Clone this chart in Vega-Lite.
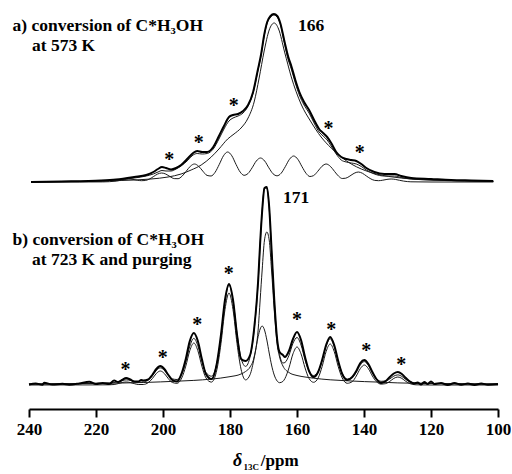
{
  "$schema": "https://vega.github.io/schema/vega-lite/v6.json",
  "width": 469,
  "height": 375,
  "autosize": {"type": "pad"},
  "padding": {"left": 12, "top": 10, "right": 0, "bottom": 0},
  "background": "white",
  "config": {"view": {"stroke": null, "fill": "white"}},
  "datasets": {
    "ae": [{"x":239.4,"y":0},{"x":230.4,"y":0.5},{"x":218.5,"y":1.5},{"x":214,"y":2.5},{"x":208.6,"y":5},{"x":205,"y":7},{"x":202.9,"y":10},{"x":201.5,"y":13},{"x":200.3,"y":15},{"x":199.1,"y":14},{"x":197.6,"y":12.5},{"x":196.1,"y":14},{"x":194.6,"y":17},{"x":192.5,"y":24},{"x":191,"y":29},{"x":189.8,"y":31},{"x":188.3,"y":30},{"x":186.8,"y":30},{"x":185,"y":35},{"x":183.3,"y":46},{"x":181.8,"y":56},{"x":180.3,"y":65},{"x":179.1,"y":67},{"x":177.6,"y":68},{"x":176.1,"y":71},{"x":174.6,"y":77},{"x":173.1,"y":90},{"x":171.7,"y":112},{"x":170.7,"y":128},{"x":169.8,"y":147},{"x":168.9,"y":160},{"x":167.9,"y":166},{"x":166.9,"y":168},{"x":165.9,"y":166},{"x":165,"y":159},{"x":163.7,"y":140},{"x":162.6,"y":125},{"x":161.7,"y":116},{"x":160.5,"y":102},{"x":159.3,"y":90},{"x":157.9,"y":80},{"x":156.4,"y":72},{"x":154.9,"y":62},{"x":153.4,"y":53},{"x":152.2,"y":49},{"x":151,"y":45},{"x":149.8,"y":39},{"x":148.3,"y":30},{"x":146.8,"y":25},{"x":145.3,"y":23},{"x":143.8,"y":22},{"x":142.3,"y":21},{"x":140.8,"y":18},{"x":139.3,"y":14},{"x":136.9,"y":10},{"x":133.9,"y":8},{"x":130.9,"y":8},{"x":128.9,"y":6},{"x":125.9,"y":4},{"x":120,"y":3},{"x":114,"y":2},{"x":108,"y":1.5},{"x":101.4,"y":1}],
    "af": [{"x":239.4,"y":0},{"x":230.4,"y":0.5},{"x":218.5,"y":1},{"x":214,"y":2},{"x":208.6,"y":4},{"x":205,"y":6},{"x":202.9,"y":8},{"x":201.5,"y":10},{"x":200.3,"y":11.5},{"x":199.1,"y":11},{"x":197.6,"y":11},{"x":196.1,"y":13},{"x":194.6,"y":16},{"x":192.5,"y":22},{"x":191,"y":27},{"x":189.8,"y":28.5},{"x":188.3,"y":28},{"x":186.8,"y":28.5},{"x":185,"y":33},{"x":183.3,"y":43},{"x":181.8,"y":53},{"x":180.3,"y":61},{"x":179.1,"y":64},{"x":177.6,"y":66},{"x":176.1,"y":69},{"x":174.6,"y":76},{"x":173.1,"y":89},{"x":171.7,"y":111},{"x":170.7,"y":127},{"x":169.8,"y":146},{"x":168.9,"y":159},{"x":167.9,"y":165},{"x":166.9,"y":167},{"x":165.9,"y":165},{"x":165,"y":158},{"x":163.7,"y":138},{"x":162.6,"y":122},{"x":161.7,"y":113},{"x":160.5,"y":99},{"x":159.3,"y":87},{"x":157.9,"y":77},{"x":156.4,"y":69},{"x":154.9,"y":59},{"x":153.4,"y":50},{"x":152.2,"y":46},{"x":151,"y":42},{"x":149.8,"y":36},{"x":148.3,"y":28},{"x":146.8,"y":22},{"x":145.3,"y":20},{"x":143.8,"y":19},{"x":142.3,"y":18},{"x":140.8,"y":15.5},{"x":139.3,"y":12},{"x":136.9,"y":8},{"x":133.9,"y":6},{"x":130.9,"y":6},{"x":128.9,"y":4.5},{"x":125.9,"y":3},{"x":120,"y":2},{"x":114,"y":1.5},{"x":108,"y":1},{"x":101.4,"y":0.5}],
    "ab": [{"x":239.4,"y":0},{"x":224.5,"y":0.5},{"x":212.5,"y":1.5},{"x":203.6,"y":3},{"x":198.5,"y":5},{"x":194.6,"y":8},{"x":191.6,"y":12},{"x":188.6,"y":17},{"x":185.6,"y":25},{"x":183.3,"y":33},{"x":180.7,"y":43},{"x":178.8,"y":48},{"x":176.7,"y":54},{"x":174.6,"y":64},{"x":172.8,"y":80},{"x":171.3,"y":104},{"x":169.8,"y":131},{"x":168.3,"y":152},{"x":166.8,"y":159},{"x":165.5,"y":153},{"x":163.7,"y":130},{"x":161.7,"y":105},{"x":158.8,"y":78},{"x":155.8,"y":60},{"x":152.8,"y":45},{"x":149.8,"y":34},{"x":146.8,"y":25},{"x":143.8,"y":18},{"x":140.8,"y":13},{"x":136.3,"y":8},{"x":128.9,"y":4},{"x":120,"y":2},{"x":110,"y":1},{"x":101.4,"y":0.5}],
    "as": [{"x":239.4,"y":0},{"x":225,"y":0},{"x":218,"y":0.1},{"x":213.95,"y":0.9},{"x":212.7,"y":1.7},{"x":211.45,"y":2.6},{"x":210.2,"y":3},{"x":208.95,"y":2.6},{"x":207.7,"y":1.8},{"x":206.45,"y":1.3},{"x":205.3,"y":1.5},{"x":204.15,"y":2.8},{"x":202.9,"y":5.3},{"x":201.65,"y":7.9},{"x":200.4,"y":9},{"x":199.15,"y":7.9},{"x":197.9,"y":5.4},{"x":196.65,"y":3.4},{"x":195.5,"y":3.3},{"x":194.35,"y":5.7},{"x":193.1,"y":10.6},{"x":191.85,"y":15.7},{"x":190.6,"y":18},{"x":189.35,"y":15.7},{"x":188.1,"y":10.8},{"x":186.85,"y":6.6},{"x":185.65,"y":6},{"x":184.45,"y":9.7},{"x":183.2,"y":17.6},{"x":181.95,"y":26.2},{"x":180.7,"y":30},{"x":179.45,"y":26.2},{"x":178.2,"y":17.6},{"x":176.95,"y":9.9},{"x":175.8,"y":6.7},{"x":174.65,"y":8.4},{"x":173.4,"y":14.2},{"x":172.15,"y":21},{"x":170.9,"y":24},{"x":169.65,"y":21},{"x":168.4,"y":14.2},{"x":167.15,"y":8.2},{"x":165.95,"y":6.2},{"x":164.75,"y":8.7},{"x":163.5,"y":15.3},{"x":162.25,"y":22.7},{"x":161,"y":26},{"x":159.75,"y":22.7},{"x":158.5,"y":15.3},{"x":157.25,"y":8.5},{"x":156.15,"y":5.5},{"x":155.05,"y":6.4},{"x":153.8,"y":10.7},{"x":152.55,"y":15.7},{"x":151.3,"y":18},{"x":150.05,"y":15.7},{"x":148.8,"y":10.6},{"x":147.55,"y":5.7},{"x":146.5,"y":3.5},{"x":145.45,"y":3.8},{"x":144.2,"y":6},{"x":142.95,"y":8.7},{"x":141.7,"y":10},{"x":140.45,"y":8.7},{"x":139.2,"y":5.8},{"x":137.95,"y":3.1},{"x":136.8,"y":1.6},{"x":135.65,"y":1.3},{"x":134.4,"y":1.8},{"x":133.15,"y":2.6},{"x":131.9,"y":3},{"x":130.65,"y":2.6},{"x":129.4,"y":1.7},{"x":128.15,"y":0.9},{"x":126,"y":0.2},{"x":120,"y":0},{"x":101.4,"y":0}],
    "be": [{"x":240,"y":0.5},{"x":238,"y":1.5},{"x":236,"y":0.3},{"x":235.5,"y":2.3},{"x":233,"y":0.5},{"x":230,"y":1.2},{"x":228,"y":0.3},{"x":225,"y":1.5},{"x":222,"y":3.3},{"x":220,"y":1},{"x":218,"y":2},{"x":216,"y":1},{"x":214.6,"y":4.5},{"x":213.4,"y":3},{"x":212.2,"y":5},{"x":211,"y":7},{"x":209.8,"y":5.5},{"x":208.6,"y":3.5},{"x":207.4,"y":3.5},{"x":206.5,"y":5},{"x":205.9,"y":4.5},{"x":204.4,"y":5.5},{"x":203.2,"y":10},{"x":202,"y":16},{"x":200.8,"y":19},{"x":199.6,"y":16},{"x":198.4,"y":10},{"x":197.2,"y":5},{"x":195.8,"y":3.5},{"x":194.4,"y":12},{"x":193.2,"y":26},{"x":192,"y":44},{"x":190.8,"y":52},{"x":189.6,"y":44},{"x":188.4,"y":26},{"x":187.2,"y":11},{"x":185.55,"y":6},{"x":183.9,"y":22},{"x":182.7,"y":50},{"x":181.5,"y":85},{"x":180.3,"y":101},{"x":179.1,"y":85},{"x":177.9,"y":50},{"x":176.7,"y":26},{"x":175.35,"y":24},{"x":174,"y":30},{"x":172.8,"y":56},{"x":171.6,"y":104},{"x":171,"y":142},{"x":170.4,"y":174},{"x":169.7,"y":197},{"x":169,"y":198},{"x":168.3,"y":178},{"x":167.6,"y":136},{"x":166.8,"y":86},{"x":165.9,"y":45},{"x":165.2,"y":33},{"x":164.2,"y":30},{"x":163.6,"y":28},{"x":162.4,"y":34},{"x":161.2,"y":46},{"x":160,"y":53},{"x":158.8,"y":45},{"x":157.6,"y":28},{"x":156.4,"y":14},{"x":155.05,"y":8},{"x":153.7,"y":13},{"x":152.5,"y":25},{"x":151.3,"y":40},{"x":150.1,"y":48},{"x":148.9,"y":40},{"x":147.7,"y":24},{"x":146.5,"y":11},{"x":145,"y":5},{"x":143.5,"y":8},{"x":142.3,"y":14},{"x":141.1,"y":22},{"x":139.9,"y":25},{"x":138.7,"y":21},{"x":137.5,"y":13},{"x":136.3,"y":6},{"x":134.9,"y":2},{"x":133.5,"y":4},{"x":132.3,"y":8},{"x":131.1,"y":11.5},{"x":129.9,"y":13},{"x":128.7,"y":11},{"x":127.5,"y":7},{"x":126.3,"y":3.5},{"x":125,"y":1.5},{"x":124,"y":2.5},{"x":123,"y":0.5},{"x":122,"y":3},{"x":121,"y":1},{"x":120,"y":3.5},{"x":119,"y":1},{"x":117,"y":2},{"x":115,"y":0},{"x":113,"y":2},{"x":111,"y":0.3},{"x":109,"y":1.5},{"x":107,"y":0},{"x":105,"y":1.5},{"x":103,"y":0.3},{"x":100,"y":1}],
    "bf": [{"x":240,"y":1},{"x":230,"y":1.2},{"x":220,"y":1.7},{"x":216,"y":2},{"x":214.6,"y":2.4},{"x":213.4,"y":3.4},{"x":212.2,"y":4.5},{"x":211,"y":5.1},{"x":209.8,"y":4.7},{"x":208.6,"y":3.7},{"x":207.4,"y":2.9},{"x":205.9,"y":3},{"x":204.4,"y":5.1},{"x":203.2,"y":9.1},{"x":202,"y":14.5},{"x":200.8,"y":17.1},{"x":199.6,"y":14.7},{"x":198.4,"y":9.7},{"x":197.2,"y":6.1},{"x":195.8,"y":5.5},{"x":194.4,"y":11.1},{"x":193.2,"y":23.1},{"x":192,"y":38.8},{"x":190.8,"y":46.6},{"x":189.6,"y":39.3},{"x":188.4,"y":24},{"x":187.2,"y":12.6},{"x":185.55,"y":8.8},{"x":183.9,"y":22.1},{"x":182.7,"y":48.4},{"x":181.5,"y":83},{"x":180.3,"y":100.2},{"x":179.1,"y":84.3},{"x":177.9,"y":51.2},{"x":176.7,"y":26.8},{"x":175.35,"y":18.6},{"x":174,"y":28.4},{"x":172.8,"y":54.6},{"x":171.6,"y":103.4},{"x":171,"y":141},{"x":170.4,"y":174},{"x":169.7,"y":197},{"x":169,"y":197},{"x":168.3,"y":177},{"x":167.6,"y":135},{"x":166.8,"y":85},{"x":165.9,"y":44},{"x":165.2,"y":30.3},{"x":164.2,"y":22},{"x":163.6,"y":22.5},{"x":162.4,"y":29.6},{"x":161.2,"y":41.7},{"x":160,"y":47.5},{"x":158.8,"y":40},{"x":157.6,"y":25.1},{"x":156.4,"y":13.9},{"x":155.05,"y":9.5},{"x":153.7,"y":13.3},{"x":152.5,"y":24.4},{"x":151.3,"y":39.1},{"x":150.1,"y":46.2},{"x":148.9,"y":38.5},{"x":147.7,"y":23.2},{"x":146.5,"y":11.5},{"x":145,"y":5.9},{"x":143.5,"y":7.4},{"x":142.3,"y":12.8},{"x":141.1,"y":20},{"x":139.9,"y":23.4},{"x":138.7,"y":19.6},{"x":137.5,"y":12.1},{"x":136.3,"y":6.4},{"x":134.9,"y":3.7},{"x":133.5,"y":4},{"x":132.3,"y":6.1},{"x":131.1,"y":8.9},{"x":129.9,"y":10.1},{"x":128.7,"y":8.6},{"x":127.5,"y":5.5},{"x":126.3,"y":3.2},{"x":124.5,"y":1.9},{"x":120,"y":1.5},{"x":110,"y":1.2},{"x":100,"y":1}],
    "bb": [{"x":240,"y":1},{"x":230,"y":1.2},{"x":220,"y":1.6},{"x":212.2,"y":2},{"x":205.9,"y":2.5},{"x":200.8,"y":3.1},{"x":195.8,"y":3.8},{"x":190.8,"y":4.6},{"x":185.55,"y":5.9},{"x":180.3,"y":8.2},{"x":176.7,"y":11},{"x":175.35,"y":13.5},{"x":174,"y":18},{"x":172.8,"y":28},{"x":171.6,"y":55},{"x":171,"y":85},{"x":170.4,"y":115},{"x":169.7,"y":145},{"x":169,"y":153},{"x":168.3,"y":145},{"x":167.6,"y":115},{"x":166.8,"y":75},{"x":165.9,"y":40},{"x":165.2,"y":28},{"x":164.2,"y":19},{"x":162.4,"y":12.5},{"x":160,"y":9.5},{"x":157.6,"y":8},{"x":155.05,"y":6.8},{"x":150.1,"y":5.2},{"x":145,"y":4.2},{"x":139.9,"y":3.4},{"x":134.9,"y":2.8},{"x":129.9,"y":2.1},{"x":124.5,"y":1.7},{"x":120,"y":1.5},{"x":110,"y":1.2},{"x":100,"y":1}],
    "bs": [{"x":240,"y":0},{"x":220,"y":0.1},{"x":216,"y":0.2},{"x":214.6,"y":0.5},{"x":213.4,"y":1.4},{"x":212.2,"y":2.5},{"x":211,"y":3},{"x":209.8,"y":2.5},{"x":208.6,"y":1.4},{"x":207.4,"y":0.5},{"x":205.9,"y":0.5},{"x":204.4,"y":2.4},{"x":203.2,"y":6.3},{"x":202,"y":11.5},{"x":200.8,"y":14},{"x":199.6,"y":11.5},{"x":198.4,"y":6.3},{"x":197.2,"y":2.5},{"x":195.8,"y":1.7},{"x":194.4,"y":7.1},{"x":193.2,"y":18.9},{"x":192,"y":34.4},{"x":190.8,"y":42},{"x":189.6,"y":34.4},{"x":188.4,"y":18.9},{"x":187.2,"y":7.2},{"x":185.55,"y":2.9},{"x":183.9,"y":15.6},{"x":182.7,"y":41.4},{"x":181.5,"y":75.4},{"x":180.3,"y":92},{"x":179.1,"y":75.4},{"x":177.9,"y":41.4},{"x":176.7,"y":15.8},{"x":175.35,"y":5.1},{"x":174,"y":10.4},{"x":172.8,"y":26.6},{"x":171.6,"y":48.4},{"x":171,"y":56},{"x":170.4,"y":59},{"x":169.7,"y":55},{"x":169,"y":45},{"x":168.3,"y":32},{"x":167.6,"y":20},{"x":166.8,"y":10},{"x":165.9,"y":3.9},{"x":165.2,"y":2.3},{"x":164.2,"y":3.6},{"x":163.6,"y":6.5},{"x":162.4,"y":17.1},{"x":161.2,"y":31.2},{"x":160,"y":38},{"x":158.8,"y":31.2},{"x":157.6,"y":17.1},{"x":156.4,"y":6.5},{"x":155.05,"y":2.7},{"x":153.7,"y":7},{"x":152.5,"y":18.5},{"x":151.3,"y":33.6},{"x":150.1,"y":41},{"x":148.9,"y":33.6},{"x":147.7,"y":18.5},{"x":146.5,"y":7},{"x":145,"y":1.7},{"x":143.5,"y":3.4},{"x":142.3,"y":9},{"x":141.1,"y":16.4},{"x":139.9,"y":20},{"x":138.7,"y":16.4},{"x":137.5,"y":9},{"x":136.3,"y":3.4},{"x":134.9,"y":0.9},{"x":133.5,"y":1.4},{"x":132.3,"y":3.6},{"x":131.1,"y":6.6},{"x":129.9,"y":8},{"x":128.7,"y":6.6},{"x":127.5,"y":3.6},{"x":126.3,"y":1.4},{"x":124.5,"y":0.2},{"x":120,"y":0},{"x":100,"y":0}],
    "lab": [
      {"k":"A","t":"a) conversion of C*H₃OH","x":244.9,"y":151},
      {"k":"A","t":"at 573 K","x":239.1,"y":131},
      {"k":"A","t":"166","x":159.7,"y":151},
      {"k":"B","t":"b) conversion of C*H₃OH","x":244.9,"y":140},
      {"k":"B","t":"at 723 K and purging","x":239.1,"y":120},
      {"k":"B","t":"171","x":164.2,"y":182},
      {"k":"AS","t":"*","x":198.1,"y":16.3},
      {"k":"AS","t":"*","x":189.3,"y":33},
      {"k":"AS","t":"*","x":178.9,"y":70.3},
      {"k":"AS","t":"*","x":150.6,"y":47},
      {"k":"AS","t":"*","x":141.3,"y":23},
      {"k":"BS","t":"*","x":211.2,"y":9.3},
      {"k":"BS","t":"*","x":200.1,"y":21},
      {"k":"BS","t":"*","x":189.8,"y":54.3},
      {"k":"BS","t":"*","x":180.4,"y":105.3},
      {"k":"BS","t":"*","x":160.0,"y":59.3},
      {"k":"BS","t":"*","x":149.8,"y":49.3},
      {"k":"BS","t":"*","x":139.3,"y":27.7},
      {"k":"BS","t":"*","x":128.9,"y":14.3},
      {"k":"T1","t":"δ","x":179.1,"y":-81},
      {"k":"T2","t":"13C","x":176.0,"y":-85},
      {"k":"T3","t":"/ppm","x":170.8,"y":-81}
    ]
  },
  "encoding": {
    "x": {
      "field": "x", "type": "quantitative",
      "scale": {"domain": [240, 100], "nice": false, "zero": false},
      "axis": {"values": [240,220,200,180,160,140,120,100], "format": "d", "title": null, "offset": 24, "grid": false,
        "domainColor": "#000", "domainWidth": 2, "tickColor": "#000", "tickWidth": 2, "tickSize": 8,
        "labelFont": "Liberation Serif", "labelFontSize": 17, "labelFontWeight": "bold", "labelColor": "#000",
        "labelPadding": 4, "labelFlush": false, "labelOverlap": false}
    }
  },
  "layer": [
    {"data": {"name": "as"}, "mark": {"type": "line", "interpolate": "monotone", "color": "#1a1a1a", "strokeWidth": 1},
     "encoding": {"y": {"field": "y", "type": "quantitative", "scale": {"domain": [-203, 172], "nice": false, "zero": false}, "axis": null}}},
    {"data": {"name": "ab"}, "mark": {"type": "line", "interpolate": "monotone", "color": "#1a1a1a", "strokeWidth": 1},
     "encoding": {"y": {"field": "y", "type": "quantitative", "scale": {"domain": [-203, 172], "nice": false, "zero": false}, "axis": null}}},
    {"data": {"name": "af"}, "mark": {"type": "line", "interpolate": "monotone", "color": "#1a1a1a", "strokeWidth": 1},
     "encoding": {"y": {"field": "y", "type": "quantitative", "scale": {"domain": [-203, 172], "nice": false, "zero": false}, "axis": null}}},
    {"data": {"name": "ae"}, "mark": {"type": "line", "interpolate": "monotone", "color": "#000", "strokeWidth": 2},
     "encoding": {"y": {"field": "y", "type": "quantitative", "scale": {"domain": [-203, 172], "nice": false, "zero": false}, "axis": null}}},
    {"data": {"name": "bs"}, "mark": {"type": "line", "interpolate": "monotone", "color": "#1a1a1a", "strokeWidth": 1},
     "encoding": {"y": {"field": "y", "type": "quantitative", "scale": {"domain": [0, 375], "nice": false, "zero": false}, "axis": null}}},
    {"data": {"name": "bb"}, "mark": {"type": "line", "interpolate": "monotone", "color": "#1a1a1a", "strokeWidth": 1},
     "encoding": {"y": {"field": "y", "type": "quantitative", "scale": {"domain": [0, 375], "nice": false, "zero": false}, "axis": null}}},
    {"data": {"name": "bf"}, "mark": {"type": "line", "interpolate": "monotone", "color": "#1a1a1a", "strokeWidth": 1},
     "encoding": {"y": {"field": "y", "type": "quantitative", "scale": {"domain": [0, 375], "nice": false, "zero": false}, "axis": null}}},
    {"data": {"name": "be"}, "mark": {"type": "line", "interpolate": "monotone", "color": "#000", "strokeWidth": 2},
     "encoding": {"y": {"field": "y", "type": "quantitative", "scale": {"domain": [0, 375], "nice": false, "zero": false}, "axis": null}}},
    {"data": {"name": "lab"}, "transform": [{"filter": "datum.k == 'A'"}],
     "mark": {"type": "text", "align": "left", "baseline": "alphabetic", "font": "Liberation Serif", "fontSize": 17.5, "fontWeight": "bold", "color": "#000"},
     "encoding": {"text": {"field": "t"}, "y": {"field": "y", "type": "quantitative", "scale": {"domain": [-203, 172], "nice": false, "zero": false}, "axis": null}}},
    {"data": {"name": "lab"}, "transform": [{"filter": "datum.k == 'B'"}],
     "mark": {"type": "text", "align": "left", "baseline": "alphabetic", "font": "Liberation Serif", "fontSize": 17.5, "fontWeight": "bold", "color": "#000"},
     "encoding": {"text": {"field": "t"}, "y": {"field": "y", "type": "quantitative", "scale": {"domain": [0, 375], "nice": false, "zero": false}, "axis": null}}},
    {"data": {"name": "lab"}, "transform": [{"filter": "datum.k == 'AS'"}],
     "mark": {"type": "text", "align": "center", "baseline": "alphabetic", "font": "Liberation Serif", "fontSize": 20, "fontWeight": "bold", "color": "#000"},
     "encoding": {"text": {"field": "t"}, "y": {"field": "y", "type": "quantitative", "scale": {"domain": [-203, 172], "nice": false, "zero": false}, "axis": null}}},
    {"data": {"name": "lab"}, "transform": [{"filter": "datum.k == 'BS'"}],
     "mark": {"type": "text", "align": "center", "baseline": "alphabetic", "font": "Liberation Serif", "fontSize": 20, "fontWeight": "bold", "color": "#000"},
     "encoding": {"text": {"field": "t"}, "y": {"field": "y", "type": "quantitative", "scale": {"domain": [0, 375], "nice": false, "zero": false}, "axis": null}}},
    {"data": {"name": "lab"}, "transform": [{"filter": "datum.k == 'T1'"}],
     "mark": {"type": "text", "align": "left", "baseline": "alphabetic", "font": "Liberation Serif", "fontSize": 18, "fontStyle": "italic", "fontWeight": "bold", "color": "#000"},
     "encoding": {"text": {"field": "t"}, "y": {"field": "y", "type": "quantitative", "scale": {"domain": [0, 375], "nice": false, "zero": false}, "axis": null}}},
    {"data": {"name": "lab"}, "transform": [{"filter": "datum.k == 'T2'"}],
     "mark": {"type": "text", "align": "left", "baseline": "alphabetic", "font": "Liberation Serif", "fontSize": 9, "fontWeight": "bold", "color": "#000"},
     "encoding": {"text": {"field": "t"}, "y": {"field": "y", "type": "quantitative", "scale": {"domain": [0, 375], "nice": false, "zero": false}, "axis": null}}},
    {"data": {"name": "lab"}, "transform": [{"filter": "datum.k == 'T3'"}],
     "mark": {"type": "text", "align": "left", "baseline": "alphabetic", "font": "Liberation Serif", "fontSize": 17, "fontWeight": "bold", "color": "#000"},
     "encoding": {"text": {"field": "t"}, "y": {"field": "y", "type": "quantitative", "scale": {"domain": [0, 375], "nice": false, "zero": false}, "axis": null}}}
  ],
  "resolve": {"scale": {"y": "independent"}}
}
